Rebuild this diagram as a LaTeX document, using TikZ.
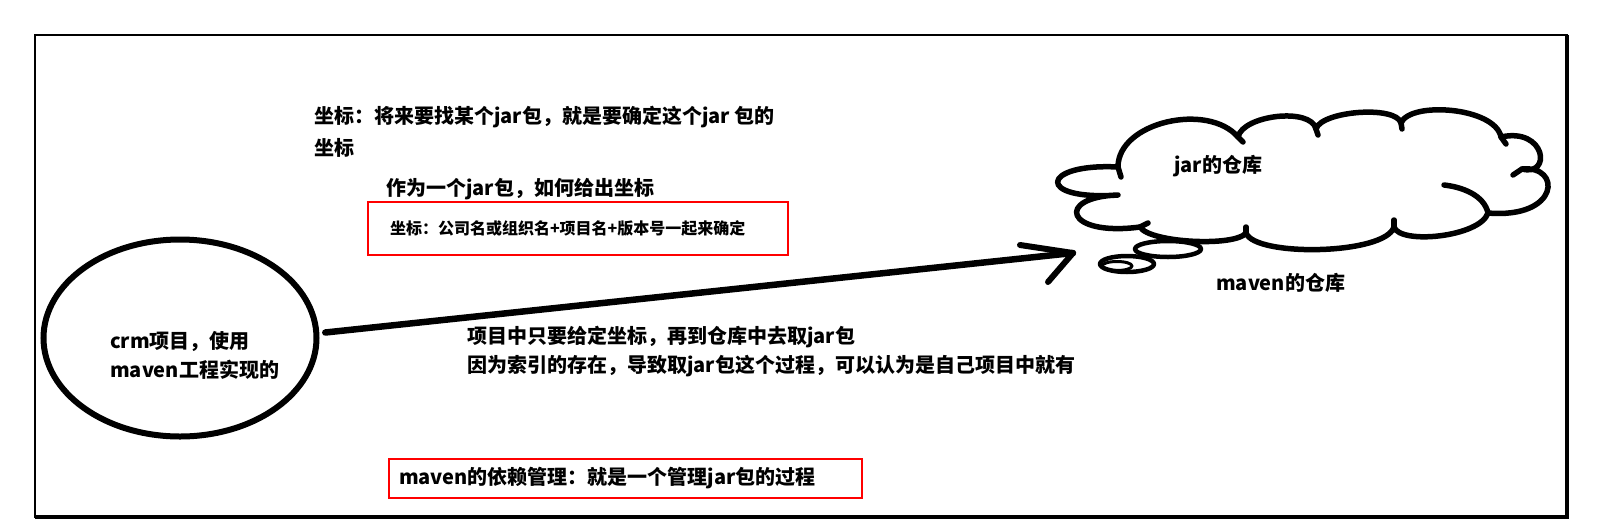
\documentclass[tikz,border=0pt]{standalone}
\usepackage{fontspec}
\setmainfont{Noto Sans CJK SC}
\usetikzlibrary{positioning,shapes.geometric}
\definecolor{BoxRed}{HTML}{FF0000}

\begin{document}
\begin{tikzpicture}[x=1pt,y=-1pt,
  lbl/.style={inner sep=0pt,font=\fontsize{20}{29}\selectfont\bfseries},
  txt/.style={lbl,anchor=west,align=left},
  smalltxt/.style={inner sep=0pt,font=\fontsize{16}{20}\selectfont\bfseries},
  redbox/.style={draw=BoxRed,line width=2pt,align=left},
  ink/.style={line width=5.5pt,line cap=round,line join=round}]
  \useasboundingbox (0,0) rectangle (1615,528);
  \draw[line width=1.5pt] (35,35) rectangle (1567,517);
  \draw[line width=3.5pt] (1567,35) -- (1567,517) -- (35,517);

  \node[txt] (coord) at (314,132) {坐标：将来要找某个jar包，就是要确定这个jar 包的\\[3pt]坐标};
  \node[txt] (ask) at (386,189) {作为一个jar包，如何给出坐标};
  \node[redbox,smalltxt,minimum width=420pt,minimum height=53pt,text width=376pt] (gav) at (578,228.5) {坐标：公司名或组织名+项目名+版本号一起来确定};

  \node[ellipse,draw,line width=6pt,minimum width=273pt,minimum height=197pt,inner sep=0pt] (crm) at (180,338) {};
  \node[txt] (crmlabel) at (110,355.5) {crm项目，使用\\maven工程实现的};

  \coordinate (tip) at (1073,253);
  \draw[ink,line width=6.5pt,shorten <=6pt] (crm.2) -- (tip);
  \draw[ink,line width=6pt] (tip) ++(-53,-8) -- (tip) -- ++(-25,29);

  \node[txt] (fetch) at (467,351.5) {项目中只要给定坐标，再到仓库中去取jar包\\因为索引的存在，导致取jar包这个过程，可以认为是自己项目中就有};
  \node[redbox,lbl,minimum width=473pt,minimum height=39pt,text width=453pt] (dep) at (625.5,478.5) {maven的依赖管理：就是一个管理jar包的过程};

  \begin{scope}[shift={(0,5)}]
  \draw[ink] (1118,162) .. controls (1118,117) and (1208,97) .. (1238,132)
    .. controls (1243,110) and (1311,102) .. (1316,124)
    .. controls (1321,106) and (1396,100) .. (1401,118)
    .. controls (1410,96) and (1495,102) .. (1501,132)
    .. controls (1546,122) and (1552,172) .. (1522,164)
    .. controls (1562,160) and (1560,214) .. (1488,208)
    .. controls (1480,232) and (1400,240) .. (1394,222)
    .. controls (1385,250) and (1255,252) .. (1246,228)
    .. controls (1235,242) and (1150,238) .. (1140,222)
    .. controls (1065,232) and (1055,192) .. (1118,190)
    .. controls (1035,196) and (1040,158) .. cycle;
  \foreach \x/\y/\dx/\dy in {1118/162/3/10,1238/132/5/5,1316/124/2/6,1401/118/1/6,1501/132/5/7,
    1522/164/-9/6,1394/222/0/-7,1246/228/0/-6,1140/222/8/-4}
    \draw[ink] (\x,\y) -- ++(\dx,\dy);
  \draw[ink] (1488,208) .. controls (1484,190) and (1462,182) .. (1444,180);
  \end{scope}
  \draw[ink,line width=4.5pt] (1168,249) ellipse [x radius=33,y radius=8];
  \draw[ink,line width=4.5pt] (1127,264) ellipse [x radius=27,y radius=8];
  \draw[ink,line width=3pt] (1117,266) ellipse [x radius=15,y radius=4.5];

  \node[txt] (jarrepo) at (1174,166) {jar的仓库};
  \node[txt] (mvnrepo) at (1216,283) {maven的仓库};
\end{tikzpicture}
\end{document}
